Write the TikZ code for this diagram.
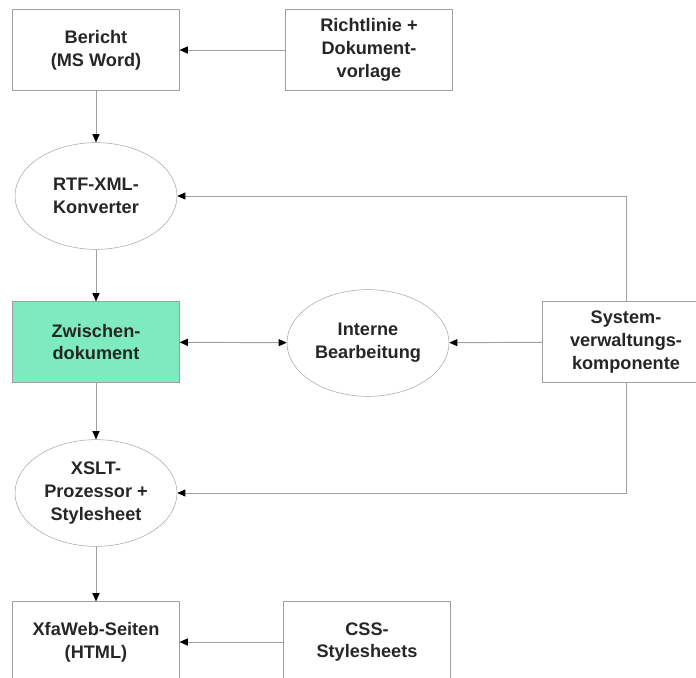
\documentclass[tikz,border=0pt]{standalone}
\usepackage{fontspec}
\setmainfont{Liberation Sans}
\usepackage{xcolor}
\usetikzlibrary{arrows.meta,shapes.geometric}
\definecolor{mint}{RGB}{125,235,190}

\begin{document}
\begin{tikzpicture}[
  x=0.03cm, y=-0.03cm,
  every node/.style={draw=gray!75, align=center, text=black!85, inner sep=0pt,
    font=\fontsize{15.5}{19.5}\selectfont\bfseries},
  box/.style={rectangle, minimum width=5.0cm, minimum height=2.42cm},
  proc/.style={ellipse, minimum width=4.86cm, minimum height=3.2cm},
  link/.style={draw=gray!75, line width=0.8pt},
  >={Triangle[length=7pt,width=6pt,color=black]}
]
\useasboundingbox (0,0) rectangle (696,678);
\clip (0,0) rectangle (696,678);

\node[box]  (bericht) at (96,50)   {Bericht\\(MS Word)};
\node[box]  (richt)   at (369,50)  {Richtlinie +\\Dokument-\\vorlage};
\node[proc] (rtf)     at (96,196)  {RTF-XML-\\Konverter};
\node[box, fill=mint] (zwi) at (96,342) {Zwischen-\\dokument};
\node[proc] (intern)  at (368,343) {Interne\\Bearbeitung};
\node[box]  (sys)     at (626,342) {System-\\verwaltungs-\\komponente};
\node[proc] (xslt)    at (96,493)  {XSLT-\\Prozessor +\\Stylesheet};
\node[box]  (xfa)     at (96,642)  {XfaWeb-Seiten\\(HTML)};
\node[box]  (css)     at (367,642) {CSS-\\Stylesheets};

\draw[link,->] (richt) -- (bericht);
\draw[link,->] (bericht) -- (rtf);
\draw[link,->] (rtf) -- (zwi);
\draw[link,<->] (zwi) -- (intern);
\draw[link,->] (sys) -- (intern);
\draw[link,->] (sys.north) |- (rtf.east);
\draw[link,->] (sys.south) |- (xslt.east);
\draw[link,->] (zwi) -- (xslt);
\draw[link,->] (xslt) -- (xfa);
\draw[link,->] (css) -- (xfa);
\end{tikzpicture}
\end{document}
